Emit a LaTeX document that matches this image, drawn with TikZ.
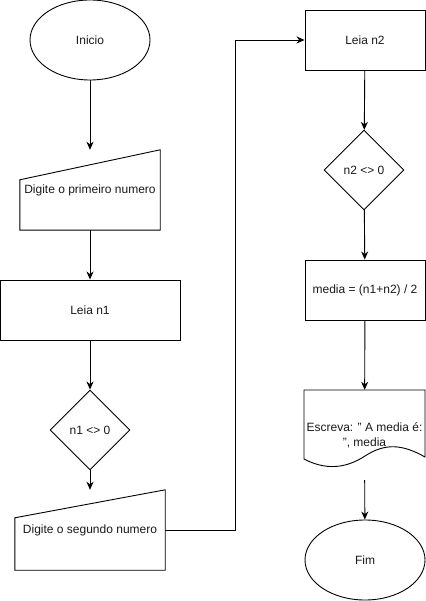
\documentclass[tikz,border=0pt]{standalone}
\usepackage{fontspec}
\setmainfont{Liberation Sans}
\usetikzlibrary{shapes.geometric,arrows.meta,calc}
\begin{document}
\begin{tikzpicture}[x=1pt,y=-1pt,
  every node/.style={font=\fontsize{12}{15}\selectfont, text=black!90, inner sep=0pt},
  lw/.style={line width=0.9pt},
  oval/.style={lw, draw, ellipse, minimum width=120pt, minimum height=80pt},
  rbox/.style={lw, draw, rectangle, minimum height=60pt},
  dia/.style={lw, draw, diamond, minimum width=80pt, minimum height=80pt},
  ghost/.style={rectangle, draw=none},
  arr/.style={lw, -{Stealth[length=8pt,width=7pt,inset=2.5pt]}}]
\useasboundingbox (0,0) rectangle (425,601);
% left column
\node[oval] (ini) at (90,40) {Inicio};
\node[ghost, minimum width=140pt, minimum height=80pt] (mi1) at (90,190) {Digite o primeiro numero};
\draw[lw] ($(mi1.north west)+(0,30)$) -- (mi1.north east) -- (mi1.south east) -- (mi1.south west) -- cycle;
\node[rbox, minimum width=180pt] (l1) at (90,310) {Leia n1};
\node[dia] (d1) at (90,430) {n1 <> 0};
\node[ghost, minimum width=150pt, minimum height=80pt] (mi2) at (90,530) {Digite o segundo numero};
\draw[lw] ($(mi2.north west)+(0,28)$) -- (mi2.north east) -- (mi2.south east) -- (mi2.south west) -- cycle;
% right column
\node[rbox, minimum width=120pt] (l2) at (365,40) {Leia n2};
\node[dia] (d2) at (364,170) {n2 <> 0};
\node[rbox, minimum width=120pt] (md) at (365,290) {media = (n1+n2) / 2};
\node[ghost, minimum width=121pt, minimum height=90pt, align=center] (doc) at (364.5,435) {Escreva: " A media é:\\", media};
\draw[lw] (304,390) -- (425,390) -- (425,457)
  .. controls (402,444) and (385,443) .. (365,456)
  .. controls (345,469) and (325,470) .. (304,459) -- cycle;
\node[oval] (fim) at (365,560) {Fim};
% connectors
\draw[arr] (ini) -- (mi1);
\draw[arr] (mi1) -- (l1);
\draw[arr] (l1) -- (d1);
\draw[arr] (d1) -- (mi2);
\draw[arr] (mi2.east) -- ++(70,0) |- (l2.west);
\draw[arr] (l2) -- (d2);
\draw[arr] (d2) -- (md);
\draw[arr] (md) -- (doc);
\draw[arr] (doc) -- (fim);
\end{tikzpicture}
\end{document}
